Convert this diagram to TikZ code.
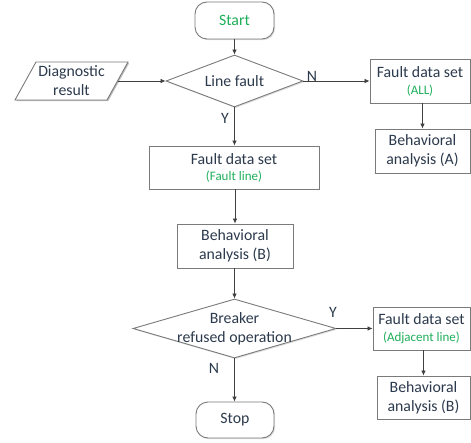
\documentclass[tikz,border=0pt]{standalone}
\usepackage{fontspec}
\setmainfont{Carlito}
\usetikzlibrary{shapes.geometric,arrows.meta,shadows}
\definecolor{txt}{HTML}{2C3A4D}
\definecolor{grn}{HTML}{1FAF5A}
\definecolor{edge}{HTML}{7A7A7A}
\definecolor{wire}{HTML}{404040}
\newcommand{\mainsize}{\fontsize{15.8}{19}\selectfont}
\newcommand{\notesize}{\fontsize{13}{14}\selectfont}
\tikzset{
  base/.style={draw=edge, line width=0.9pt, fill=white, text=txt, align=center,
    font=\mainsize, inner sep=0pt,
    drop shadow={opacity=0.25, shadow xshift=1.2pt, shadow yshift=-1.2pt}},
  procbox/.style={base, rectangle},
  termbox/.style={base, rectangle, rounded corners=12pt},
  decbox/.style={base, diamond},
  labeltxt/.style={text=txt, align=center, font=\mainsize, inner sep=0pt},
  flow/.style={draw=wire, line width=0.7pt, -{Latex[length=5pt,width=4.5pt]}},
  yn/.style={text=txt, font=\mainsize, inner sep=0pt}
}
\begin{document}
\begin{tikzpicture}[x=1pt,y=-1pt]
\useasboundingbox (0,0) rectangle (471,443);

% terminals
\node[termbox, minimum width=79pt, minimum height=37pt] (start) at (234.5,20.5) {\textcolor{grn}{Start}};
\node[termbox, minimum width=78pt, minimum height=36pt] (stop) at (235,420) {Stop};

% decisions
\node[decbox, minimum width=137pt, minimum height=52pt] (fault) at (234.5,81) {};
\node[labeltxt] (faulttxt) at (fault.center) {Line fault};
\node[decbox, minimum width=203pt, minimum height=59pt] (breaker) at (234.5,328.5) {};
\node[labeltxt] (breakertxt) at (breaker.center) {Breaker\\refused operation};

% input data (parallelogram)
\fill[black, opacity=0.25] (16.2,101.2) -- (37.2,63.2) -- (129.2,63.2) -- (108.2,101.2) -- cycle;
\draw[draw=edge, line width=0.9pt, fill=white] (15,100) -- (36,62) -- (128,62) -- (107,100) -- cycle;
\node[labeltxt, minimum width=92pt] (diag) at (71.5,81) {Diagnostic\\result};

% process boxes
\node[procbox, minimum width=100pt, minimum height=44pt] (all) at (420,81)
  {Fault data set\\[-2pt]{\notesize\color{grn}(ALL)}};
\node[procbox, minimum width=95pt, minimum height=44pt] (behA) at (422.5,151)
  {Behavioral\\analysis (A)};
\node[procbox, minimum width=170pt, minimum height=43pt] (fline) at (234,167.5)
  {Fault data set\\[-3pt]{\notesize\color{grn}(Fault line)}};
\node[procbox, minimum width=116pt, minimum height=44pt] (behB) at (235,246)
  {Behavioral\\analysis (B)};
\node[procbox, minimum width=97pt, minimum height=43pt] (adj) at (421.5,328.5)
  {Fault data set\\[-2pt]{\notesize\color{grn}(Adjacent line)}};
\node[procbox, minimum width=93pt, minimum height=43pt] (behB2) at (423.5,397.5)
  {Behavioral\\analysis (B)};

% connectors
\draw[flow] (start) -- (fault);
\draw[flow] (diag.east) -- (fault.west);
\draw[flow] (fault.east) -- (all.west);
\draw[flow] (behA.north |- all.south) -- (behA.north);
\draw[flow] (fault.south) -- (fault.south |- fline.north);
\draw[flow] (fline.south -| behB.north) -- (behB.north);
\draw[flow] (behB.south -| breaker.north) -- (breaker.north);
\draw[flow] (breaker.east) -- (adj.west);
\draw[flow] (behB2.north |- adj.south) -- (behB2.north);
\draw[flow] (breaker.south) -- (breaker.south |- stop.north);

% branch labels
\node[yn] (n1) at (312,76) {N};
\node[yn] (y1) at (225,118) {Y};
\node[yn] (y2) at (333,312) {Y};
\node[yn] (n2) at (214,368) {N};
\end{tikzpicture}
\end{document}
